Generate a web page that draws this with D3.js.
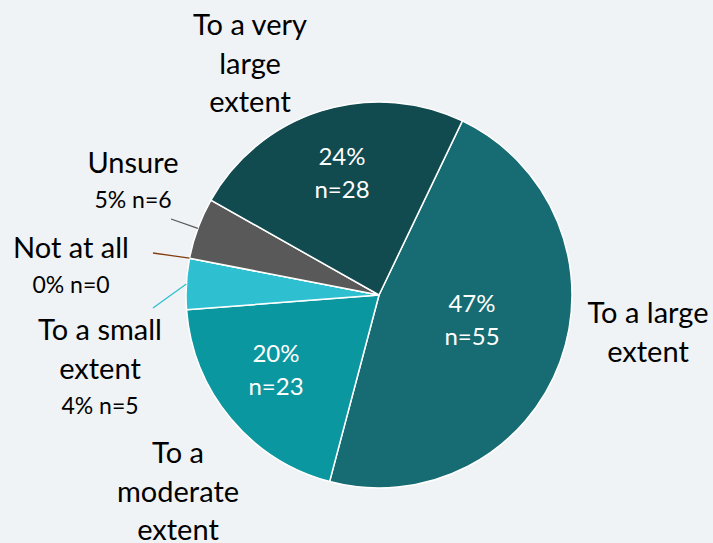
<!DOCTYPE html>
<html>
<head>
<meta charset="utf-8">
<script src="https://cdn.jsdelivr.net/npm/d3@7"></script>
<style>
  body { margin: 0; background: #f0f3f5; }
  svg { display: block; font-family: Lato, "Open Sans", sans-serif; }
</style>
</head>
<body>
<div id="chart"></div>
<script>
// Survey responses, in the order the slices are drawn (clockwise)
var categories = ["To a large extent", "To a moderate extent", "To a small extent", "Not at all", "Unsure", "To a very large extent"];
var counts = [55, 23, 5, 0, 6, 28];
var percents = [47, 20, 4, 0, 5, 24];
var colors = ["#166c72", "#0b979f", "#2ec0d0", "#843c0c", "#595959", "#114a4f"];

var width = 713, height = 543;
var cx = 379, cy = 295, radius = 193;

var svg = d3.select("#chart")
  .append("svg")
  .attr("width", width)
  .attr("height", height);

svg.append("rect")
  .attr("width", width)
  .attr("height", height)
  .attr("fill", "#f0f3f5");

// first slice begins a little past 12 o'clock
var startAngle = 25.6 * Math.PI / 180;

var pie = d3.pie()
  .sort(null)
  .value(function(d) { return d; })
  .startAngle(startAngle)
  .endAngle(startAngle + 2 * Math.PI);

var arcs = pie(counts);

var arc = d3.arc()
  .innerRadius(0)
  .outerRadius(radius);

var g = svg.append("g")
  .attr("transform", "translate(" + cx + "," + cy + ")");

g.selectAll("path")
  .data(arcs)
  .enter()
  .append("path")
  .attr("d", arc)
  .attr("fill", function(d, i) { return colors[i]; })
  .attr("stroke", "#ffffff")
  .attr("stroke-width", 1.5);

// inside labels for the big slices
var inner = [
  { i: 0, x: 472, y: 312 },
  { i: 1, x: 276, y: 362 },
  { i: 5, x: 342, y: 165 }
];
inner.forEach(function(l) {
  var t = svg.append("text")
    .attr("text-anchor", "middle")
    .attr("fill", "#ffffff")
    .attr("font-size", 24);
  t.append("tspan").attr("x", l.x).attr("y", l.y).text(percents[l.i] + "%");
  t.append("tspan").attr("x", l.x).attr("y", l.y + 33).text("n=" + counts[l.i]);
});

// outside category labels
var outer = [
  { lines: ["To a large", "extent"], x: 648, y: 323 },
  { lines: ["To a", "moderate", "extent"], x: 178, y: 463 },
  { lines: ["To a small", "extent"], x: 100, y: 340, sub: 2 },
  { lines: ["Not at all"], x: 71, y: 258, sub: 3 },
  { lines: ["Unsure"], x: 133, y: 173, sub: 4 },
  { lines: ["To a very", "large", "extent"], x: 250, y: 35 }
];
outer.forEach(function(l) {
  var t = svg.append("text")
    .attr("text-anchor", "middle")
    .attr("fill", "#000000");
  l.lines.forEach(function(s, k) {
    t.append("tspan")
      .attr("x", l.x)
      .attr("y", l.y + k * 38.5)
      .attr("font-size", 29)
      .text(s);
  });
  if (l.sub !== undefined) {
    t.append("tspan")
      .attr("x", l.x)
      .attr("y", l.y + (l.lines.length - 1) * 38.5 + 35)
      .attr("font-size", 23)
      .text(percents[l.sub] + "% n=" + counts[l.sub]);
  }
});

// leader lines for the small slices
var leaders = [
  { i: 4, x: 171, y: 219 },
  { i: 3, x: 153, y: 253 },
  { i: 2, x: 153, y: 308 }
];
leaders.forEach(function(l) {
  var d = arcs[l.i];
  var a = (d.startAngle + d.endAngle) / 2;
  svg.append("line")
    .attr("x1", l.x)
    .attr("y1", l.y)
    .attr("x2", cx + radius * Math.sin(a))
    .attr("y2", cy - radius * Math.cos(a))
    .attr("stroke", colors[l.i])
    .attr("stroke-width", 1.3);
});
</script>
</body>
</html>
